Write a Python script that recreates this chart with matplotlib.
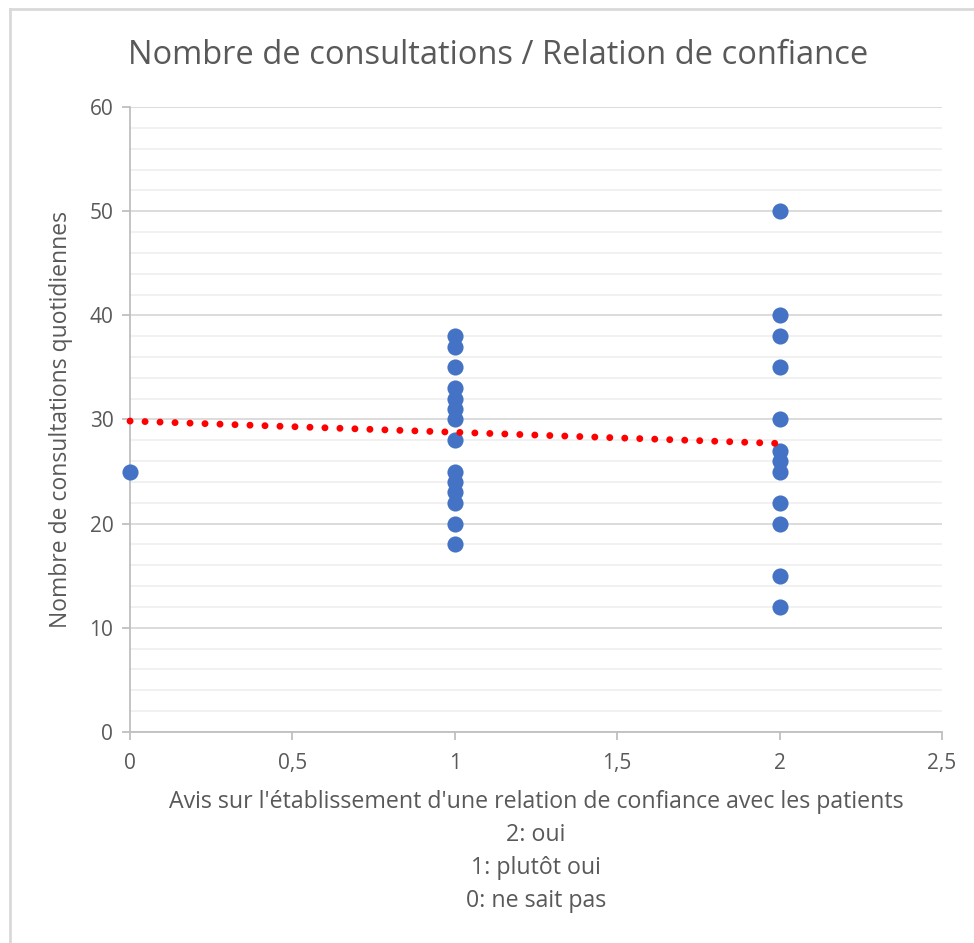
import matplotlib
matplotlib.use("Agg")
import matplotlib.pyplot as plt
from matplotlib.ticker import MultipleLocator, FuncFormatter

plt.rcParams['font.family'] = ['Open Sans', 'DejaVu Sans']

# avis (0: ne sait pas, 1: plutôt oui, 2: oui) -> consultations quotidiennes
avis_0 = [0]
consult_0 = [25]
avis_1 = [1] * 14
consult_1 = [38, 37, 35, 33, 32, 31, 30, 28, 25, 24, 23, 22, 20, 18]
avis_2 = [2] * 12
consult_2 = [50, 40, 38, 35, 30, 27, 26, 25, 22, 20, 15, 12]

# linear trend line
trend_x = [0, 2]
trend_y = [29.85, 27.7]

grey_text = '#595959'

fig = plt.figure(figsize=(9.74, 9.43), dpi=100)
ax = fig.add_axes([0.1335, 0.2238, 0.8337, 0.6627])

x_all = avis_0 + avis_1 + avis_2
y_all = consult_0 + consult_1 + consult_2
ax.scatter(x_all, y_all, s=135, color='#4472C4', zorder=3, linewidths=0, clip_on=False)

ax.plot(trend_x, trend_y, color='#FF0000', linewidth=5,
        linestyle=(0, (0.01, 2.15)), dash_capstyle='round', zorder=4, clip_on=False)

ax.set_xlim(0, 2.5)
ax.set_ylim(0, 60)
ax.xaxis.set_major_locator(MultipleLocator(0.5))
ax.yaxis.set_major_locator(MultipleLocator(10))
ax.yaxis.set_minor_locator(MultipleLocator(2))
ax.xaxis.set_major_formatter(FuncFormatter(lambda v, p: ('%g' % v).replace('.', ',')))

ax.grid(True, which='major', axis='y', color='#d9d9d9', linewidth=1.3, zorder=0)
ax.grid(True, which='minor', axis='y', color='#f0f0f0', linewidth=1.3, zorder=0)
ax.set_axisbelow(True)

for s in ['top', 'right']:
    ax.spines[s].set_visible(False)
for s in ['left', 'bottom']:
    ax.spines[s].set_color('#bfbfbf')
    ax.spines[s].set_linewidth(1.3)

ax.tick_params(axis='both', which='major', direction='out', length=6, width=1.3,
               color='#bfbfbf', labelcolor=grey_text, labelsize=15, pad=6)
ax.tick_params(axis='y', which='minor', length=0)
ax.tick_params(axis='x', pad=9)

# title sits a bit left of the plot centre, as in the original
fig.text(498 / 974, 1 - 55 / 943, 'Nombre de consultations / Relation de confiance',
         fontsize=23.5, color=grey_text, ha='center', va='center')
ax.set_ylabel('Nombre de consultations quotidiennes', fontsize=16.5,
              color=grey_text, labelpad=12)
ax.set_xlabel("Avis sur l'établissement d'une relation de confiance avec les patients\n"
              "2: oui\n1: plutôt oui\n0: ne sait pas",
              fontsize=16.7, color=grey_text, linespacing=1.5, labelpad=12)

# chart frame (top and left edge)
fig.add_artist(plt.Line2D([10 / 974, 1], [1 - 9 / 943, 1 - 9 / 943],
                          color='#d9d9d9', linewidth=2, transform=fig.transFigure))
fig.add_artist(plt.Line2D([10 / 974, 10 / 974], [0, 1 - 9 / 943],
                          color='#d9d9d9', linewidth=2, transform=fig.transFigure))

fig.savefig('out.png', dpi=100)
